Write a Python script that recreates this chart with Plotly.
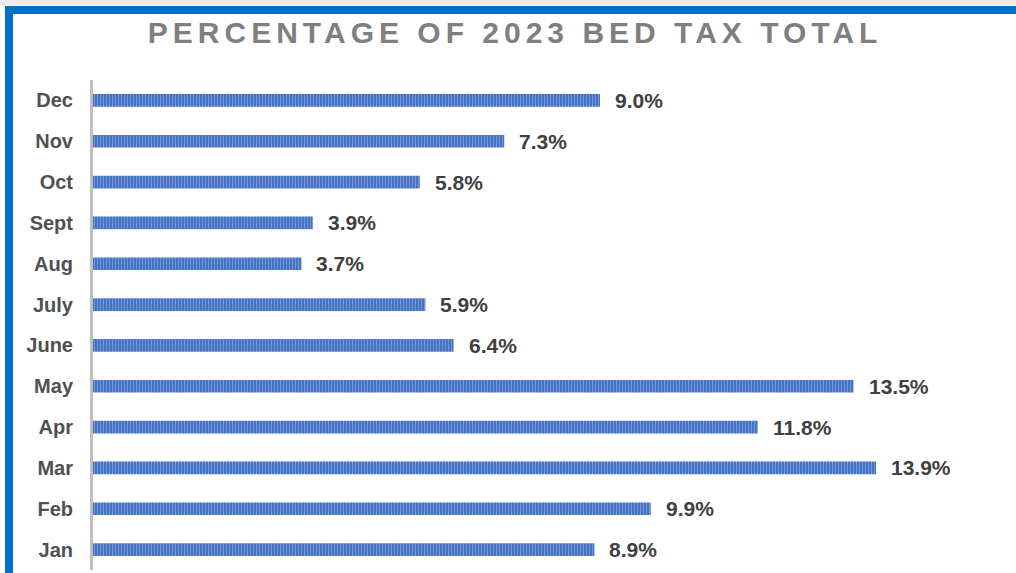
import plotly.graph_objects as go

months = ["Jan", "Feb", "Mar", "Apr", "May", "June", "July", "Aug", "Sept", "Oct", "Nov", "Dec"]
pct = [8.9, 9.9, 13.9, 11.8, 13.5, 6.4, 5.9, 3.7, 3.9, 5.8, 7.3, 9.0]
labels = [f"{v:.1f}%" for v in pct]
title_text = "PERCENTAGE OF 2023 BED TAX TOTAL"

W, H = 1016, 573
ML, MR, MT, MB = 93, 16, 80, 3
pw = W - ML - MR
ph = H - MT - MB

def px(x):
    return (x - ML) / pw

def py(y):
    return (H - MB - y) / ph

fig = go.Figure()
fig.add_trace(go.Bar(
    y=months, x=pct, orientation="h", width=0.31,
    marker=dict(
        color="#4472C4",
        line=dict(width=0),
        pattern=dict(shape="|", bgcolor="#4472C4", fgcolor="#A3BAE6", size=3, solidity=0.35, fillmode="overlay"),
    ),
    hoverinfo="skip",
))

for m, v, t in zip(months, pct, labels):
    fig.add_annotation(x=v, y=m, text=t, showarrow=False, xanchor="left", xshift=13,
                       font=dict(family="Liberation Sans, Arial, sans-serif", size=21, color="#404040", weight="bold"))

shapes = [
    dict(type="rect", xref="paper", yref="paper", x0=px(0), x1=px(W), y0=py(0), y1=py(5),
         fillcolor="#EBEBEB", line=dict(width=0), layer="below"),
    dict(type="rect", xref="paper", yref="paper", x0=px(5), x1=px(W), y0=py(6), y1=py(14),
         fillcolor="#0070C0", line=dict(width=0), layer="below"),
    dict(type="rect", xref="paper", yref="paper", x0=px(5), x1=px(13), y0=py(6), y1=py(H),
         fillcolor="#0070C0", line=dict(width=0), layer="below"),
]

fig.update_layout(
    width=W, height=H,
    margin=dict(l=ML, r=MR, t=MT, b=MB),
    paper_bgcolor="white", plot_bgcolor="white",
    showlegend=False,
    shapes=shapes,
    title=dict(text=title_text, x=0.507, xanchor="center", y=1 - 32 / H, yanchor="middle", yref="container",
               font=dict(family="Liberation Sans, Arial, sans-serif", size=30, color="#7F7F7F", weight="bold")),
    xaxis=dict(range=[0, 16.1], visible=False, showgrid=False, zeroline=False, fixedrange=True),
    yaxis=dict(categoryorder="array", categoryarray=months, showgrid=False, zeroline=False,
               showline=True, linecolor="#BFBFBF", linewidth=3, ticks="", ticklabelstandoff=13,
               tickfont=dict(family="Liberation Sans, Arial, sans-serif", size=20, color="#505050", weight="bold"),
               range=[-0.5, 11.5], fixedrange=True),
)

post = """
document.body.style.margin = '0';
document.body.style.overflow = 'hidden';
var st = document.createElement('style');
st.textContent = '.gtitle { letter-spacing: 5px; }';
document.head.appendChild(st);
"""

fig.write_html("out.html", post_script=post, config={"displayModeBar": False, "staticPlot": True})
